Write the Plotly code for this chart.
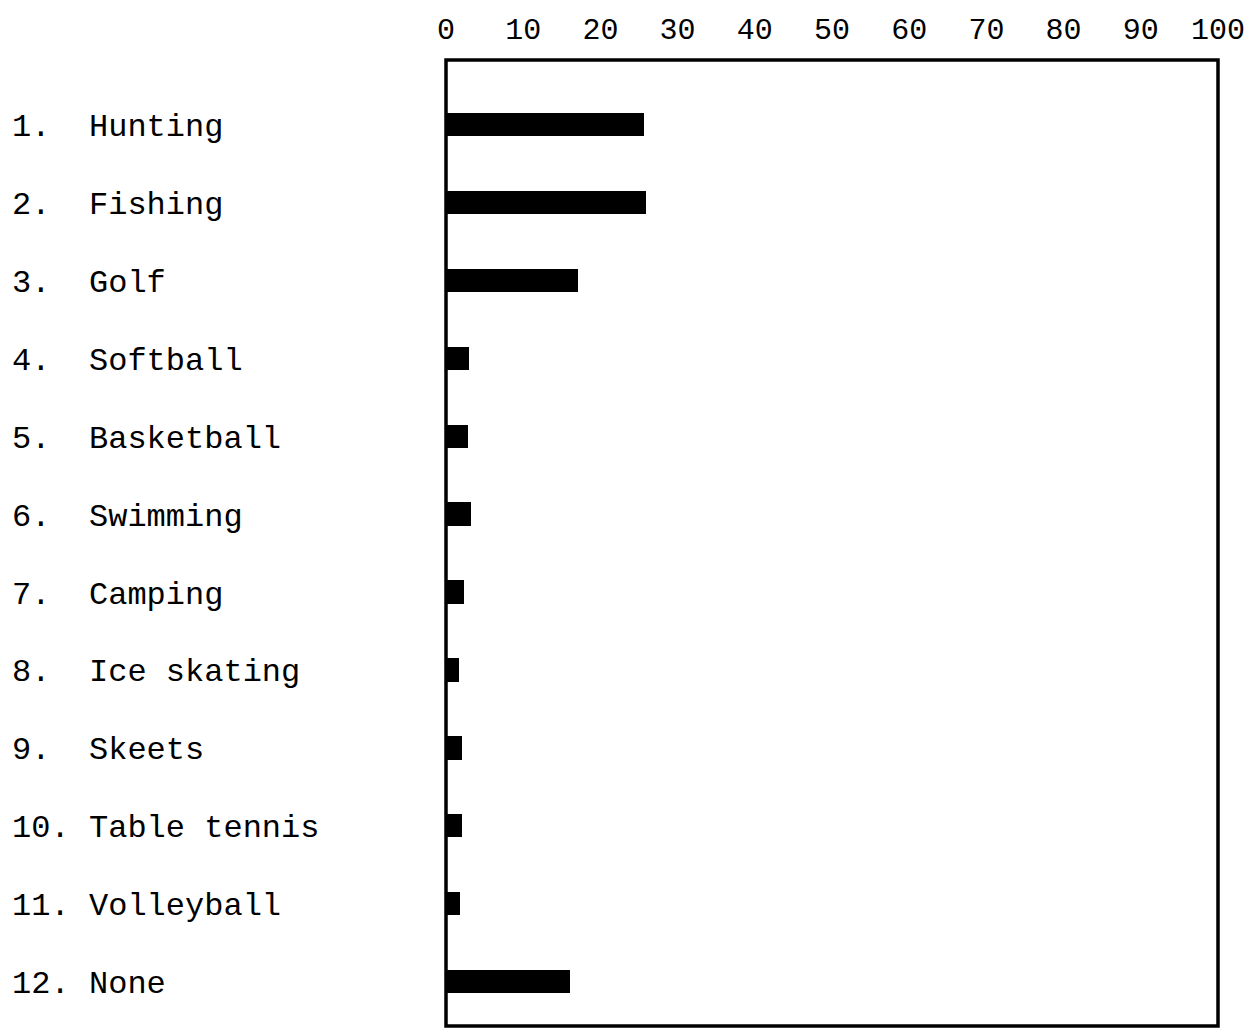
import plotly.graph_objects as go

numbers = ["1.", "2.", "3.", "4.", "5.", "6.", "7.", "8.", "9.", "10.", "11.", "12."]
activities = ["Hunting", "Fishing", "Golf", "Softball", "Basketball", "Swimming",
              "Camping", "Ice skating", "Skeets", "Table tennis", "Volleyball", "None"]
values = [25.6, 25.9, 17.1, 3.0, 2.8, 3.3, 2.3, 1.7, 2.1, 2.1, 1.8, 16.0]
tick_vals = [0, 10, 20, 30, 40, 50, 60, 70, 80, 90, 100]

FONT = "Liberation Mono, Courier New, monospace"

fig = go.Figure()
fig.add_trace(go.Bar(
    x=values, y=activities, orientation="h",
    marker=dict(color="black", line=dict(width=0)),
    width=0.3, hoverinfo="x+y",
))

W, H = 1248, 1020
ml, mr, mt, mb = 438, 38, 52, 2
pw = W - ml - mr

annotations = []
for num, act in zip(numbers, activities):
    annotations.append(dict(x=-(ml - 2) / pw, y=act, xref="paper", yref="y",
                            text=num, showarrow=False, xanchor="left", yanchor="middle",
                            font=dict(family=FONT, size=32, color="black"), yshift=-3))
    annotations.append(dict(x=-(ml - 79) / pw, y=act, xref="paper", yref="y",
                            text=act, showarrow=False, xanchor="left", yanchor="middle",
                            font=dict(family=FONT, size=32, color="black"), yshift=-3))

fig.update_layout(
    width=W, height=H,
    margin=dict(l=ml, r=mr, t=mt, b=mb),
    paper_bgcolor="white", plot_bgcolor="white",
    showlegend=False,
    bargap=0,
    xaxis=dict(side="top", range=[0, 100], tickvals=tick_vals,
               ticktext=[str(v) for v in tick_vals],
               showgrid=False, zeroline=False, showline=False,
               ticks="", ticklabelstandoff=14,
               tickfont=dict(family=FONT, size=30, color="black")),
    yaxis=dict(categoryorder="array", categoryarray=activities,
               range=[11.57, -0.83], showticklabels=False, showgrid=False,
               zeroline=False, showline=False, ticks=""),
    annotations=annotations,
    shapes=[dict(type="rect", xref="paper", yref="paper", x0=0, x1=1, y0=0, y1=1,
                 line=dict(color="black", width=3.5), fillcolor="rgba(0,0,0,0)")],
)

fig.write_html("out.html")
